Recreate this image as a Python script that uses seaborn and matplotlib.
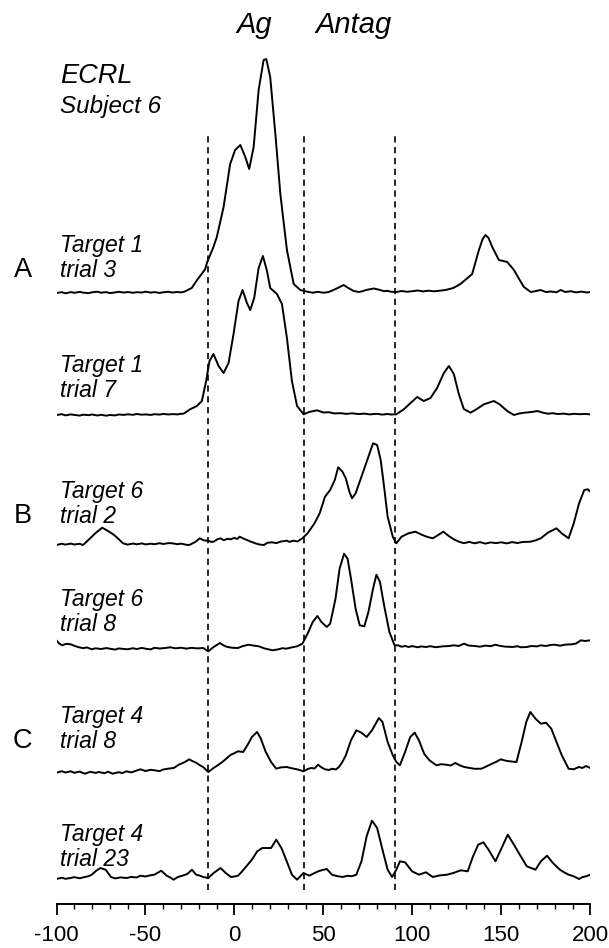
import matplotlib
matplotlib.use("Agg")
import matplotlib.pyplot as plt
import seaborn as sns
import pandas as pd
from matplotlib.ticker import MultipleLocator

# ---------------------------------------------------------------------------
# ECRL rectified EMG, subject 6: (time in ms, amplitude in arbitrary units)
# ---------------------------------------------------------------------------
target1_trial3 = [
    (-100, 0), (-97, 0.8), (-95, -0.3), (-92, 0.9), (-90, 0.2), (-87, 1.1), (-85, 0.4),
    (-82, -0.2), (-80, 0.7), (-77, 1.3), (-75, 0.3), (-72, 0.9), (-70, -0.1), (-67, 0.6),
    (-65, 1.2), (-62, 0.4), (-60, 1.0), (-57, 0.2), (-55, 0.8), (-52, 0.5), (-50, 1.3),
    (-47, 0.4), (-45, 0.9), (-42, 0.1), (-40, 0.7), (-37, 1.2), (-35, 0.5), (-32, 1.0),
    (-30, 0.6), (-28, 1.4), (-24, 5), (-21, 13), (-18, 20), (-16.4, 24), (-15.3, 31),
    (-12, 45), (-9.9, 56), (-6.1, 86), (-2.4, 129), (0.4, 143), (3.3, 148), (6.1, 136),
    (8.3, 124), (10.8, 146), (13.6, 203), (16.4, 233), (17.9, 234), (20.1, 216), (23, 159),
    (25.8, 99), (29.5, 43), (33.3, 9), (37, 3), (41.7, 1), (44, 0.3), (47, 1.2), (50, 0.2),
    (53, 1.0), (55, 2.5), (58, 5), (61.4, 8), (64, 5), (67, 2), (70, 1), (72, 1.8), (74, 3),
    (78.3, 4.5), (82, 3), (84, 1.8), (86, 2.2), (88, 1.2), (91, 1), (94, 2.0), (97, 1.2),
    (100, 1.8), (103, 2.5), (106, 1.6), (109, 2.3), (112, 1.7), (115, 2.2), (118.6, 3),
    (123, 5), (127, 9), (131, 15), (133.6, 19), (137.4, 43), (139.5, 54), (141.1, 58),
    (142.8, 55), (144.9, 46), (148.6, 33), (151, 32), (153.3, 31), (157.1, 23), (160, 14),
    (162.7, 6), (166.5, 1), (169, 1.8), (172, 3), (175, 1), (178, 1.5), (181, 0.7),
    (183.3, 3), (186, 1), (189, 1.8), (192, 0.6), (195, 1.4), (198, 0.5), (200, 1),
]

target1_trial7 = [
    (-100, 0), (-97, 0.8), (-95, -0.4), (-92, 0.6), (-90, 0.1), (-87, -0.6), (-85, 0.3),
    (-82, -0.2), (-80, 0.5), (-77, -0.5), (-75, 0.2), (-72, -0.7), (-70, 0), (-67, -0.4),
    (-65, 0.5), (-62, 0.1), (-60, 0.7), (-57, 0.2), (-55, 1.0), (-52, 0.3), (-50, 0.6),
    (-47, 0.1), (-45, 0.8), (-42, 0.4), (-40, 1.1), (-37, 0.5), (-35, 0.9), (-32, 0.6),
    (-30, 1.2), (-28.6, 1.3), (-24.9, 5.7), (-21.1, 9), (-18.3, 14), (-15.9, 34), (-14, 54),
    (-11.8, 61), (-8.9, 49), (-6.1, 42), (-3.3, 52), (-0.5, 81), (2.3, 114), (4.6, 125),
    (7, 112), (8.9, 105), (11.1, 117), (13.6, 147), (16, 159), (18.3, 144), (20.1, 127),
    (23.9, 121), (26.7, 111), (29.5, 77), (32.3, 34), (35.2, 9), (38.9, 0.7), (42, 3),
    (46.4, 4.7), (50, 2.5), (53, 2.8), (56, 1.6), (60, 1.8), (63, 1.1), (66, 1.7), (70, 0.9),
    (73, 1.4), (76, 0.6), (80, 1.2), (83, 0.4), (86, 1.0), (88, 0.5), (91, 0.7), (95.2, 5.7),
    (99, 12), (102.7, 18), (106.4, 14), (110.2, 17), (113.9, 27), (117.7, 42), (120.5, 49),
    (123.3, 41), (126.1, 21), (128.9, 6), (132.7, 2.3), (136, 5.7), (140.2, 10.7),
    (145.8, 14), (149, 10.7), (153.3, 4), (157.1, 0), (160, 1.5), (163, 2.3), (167, 3),
    (170.2, 4), (173, 2.5), (176, 1.3), (179, 1.8), (182, 0.9), (185, 1.4), (188, 0.6),
    (191, 1.2), (194, 0.8), (197, 1.1), (200, 0.7),
]

target6_trial2 = [
    (-100, -1), (-97, 0.3), (-95, -0.6), (-92, 0.4), (-90, -0.5), (-87, 0.2), (-85.1, -1),
    (-82.1, 4), (-78.2, 10.7), (-74.3, 16.3), (-72, 14), (-70.4, 12.3), (-68, 9.5),
    (-66.5, 7.3), (-62.6, 0.7), (-60, -0.6), (-57, 0.5), (-55, -0.3), (-52, 0.6), (-50, -0.4),
    (-47, 0.3), (-45, -0.2), (-42, 0.8), (-40, 0), (-37, 0.9), (-35, 0.7), (-32, -0.2),
    (-30, 0.4), (-27, -0.8), (-25.4, -1), (-22, 2), (-19.5, 5.7), (-17, 3.5), (-14.7, 3.3),
    (-13, 2.1), (-11.7, 2.3), (-9.5, 4.8), (-7.8, 5.7), (-6, 3.8), (-4, 5.2), (-2, 4.7),
    (0, 6.2), (1.5, 5.0), (2.95, 7.3), (5, 5.5), (7, 4), (9, 2.5), (11.7, 0.7), (14, -0.5),
    (16.6, -1), (18.5, 1.2), (21, 1.7), (23.5, 0.9), (26, 2.4), (29.4, 3.3), (31, 2.1),
    (33, 3.3), (35.5, 2.6), (38.2, 5.7), (41.1, 10.7), (45, 20.7), (47.9, 30.7), (50.9, 47.3),
    (53.8, 54), (56.4, 64), (58.3, 76.7), (60.7, 72.3), (62.6, 65.7), (64.6, 52.3),
    (66.1, 45.7), (68.1, 50.7), (71.4, 67.3), (75.3, 87.3), (77.9, 100.7), (80.2, 99),
    (82.2, 84), (84.1, 57.3), (86.1, 27.3), (89, 7.3), (91, 0.7), (93.9, 7.3), (97.8, 10.7),
    (101.7, 12.3), (105.6, 9), (108.5, 7), (111.5, 5.7), (114.5, 9), (117.4, 12.3),
    (121, 7.3), (123.5, 4.5), (126.2, 2.3), (129, 0.8), (132, 2.1), (135, 0.7), (138, 1.9),
    (141, 0.4), (144, 1.6), (147, 0.9), (150, 1.7), (153, 0.6), (156, 1.9), (159, 1.0),
    (162, 2.0), (166.3, 2.3), (169, 3.5), (172.2, 5.7), (176.1, 11.3), (181, 15.7),
    (183.9, 10.7), (187.8, 5.7), (190.7, 20.7), (193.7, 40.7), (196.6, 54), (198.6, 54.7),
    (200, 52.3),
]

target6_trial8 = [
    (-100, 6.7), (-98.5, 3.5), (-96.8, 1.7), (-94.5, 3.2), (-92, 2.7), (-90, 1.2), (-88, 0),
    (-85, -1.2), (-83, -0.4), (-80.2, -2.3), (-78, -1.3), (-75, -2.0), (-72, -1.1),
    (-70, -1.7), (-67, -2.6), (-65, -1.4), (-62, -2.0), (-60, -2.3), (-57, -1.2), (-55, -2.1),
    (-52, -0.9), (-50, -1.7), (-47, -2.4), (-45, -0.8), (-42, -1.5), (-39, -1), (-36, -0.3),
    (-33, -1.3), (-30, -0.7), (-27, -1.6), (-24, -0.8), (-21, -1.4), (-17.6, -1),
    (-14.7, -4.3), (-11.7, 0), (-8.2, 4), (-6, 1.5), (-4, 0), (-1, -0.8), (2, -1), (4.5, 0.8),
    (7.8, 2.3), (10.5, 1.5), (13.7, 0.7), (17, -1.5), (21.5, -3.3), (24.5, -2.4), (27, -1.2),
    (29, -1.7), (32, -0.5), (35.2, 0.7), (38.2, 3.3), (41.1, 13.3), (44, 25), (46.6, 31),
    (48.9, 25), (51.9, 20), (53.8, 23.3), (56.8, 48.3), (59.1, 78.3), (61.6, 93.3),
    (63.6, 88.3), (65.5, 68.3), (68.1, 38.3), (70.4, 21.7), (73, 20.7), (75.3, 35),
    (77.9, 58.3), (79.8, 72.3), (81.8, 65), (84.1, 41.7), (87.1, 15), (90, 1.7), (92, 1.7),
    (94, 0.2), (96, 1.1), (97.8, 0), (100, 0.9), (103, -0.3), (105, 0.6), (107.6, 0),
    (110, 0.8), (113, -0.2), (117.4, 0.7), (120, 0.9), (123.3, 1.7), (126, 1.0), (129.1, 3.3),
    (131.5, 1.5), (135, 1), (138, 0.3), (141, 1.4), (144, 0.8), (146.7, 2.3), (149, 1.2),
    (152, 0.4), (156.5, 0), (159, 0.8), (161, -0.3), (164.3, 0), (167, 1.0), (170, 0.6),
    (172.2, 1.7), (175, 1.0), (178, 2.1), (180, 2.3), (183, 1.3), (186, 2.4), (189.8, 2.7),
    (192, 3.5), (194.7, 6.7), (197, 6.0), (200, 6.7),
]

target4_trial8 = [
    (-100, -0.7), (-97, 0.8), (-95, -0.5), (-92, 0.7), (-90, -0.8), (-87, 0.4), (-84.1, -1.7),
    (-81, 0.2), (-78, -0.9), (-76.3, 0), (-73, -1.2), (-71, 0.3), (-68.5, -1.7), (-65, -0.2),
    (-63, -1.1), (-60.6, 0.7), (-58, -0.4), (-55, 1.4), (-52.8, 2.7), (-50, 1.0), (-47, 2.2),
    (-45, 1.7), (-42, 0.9), (-40, 2.5), (-37.2, 3.3), (-34, 4.1), (-31.3, 7.3), (-28, 9.8),
    (-25.4, 12.7), (-23.5, 10.8), (-21.5, 9.3), (-19.5, 6.8), (-17.6, 5), (-14.7, 0),
    (-11.7, 4), (-9, 7.2), (-6.8, 10), (-4.5, 13.5), (-2, 17.3), (0, 18.8), (2, 20.7),
    (4.9, 20), (7.8, 28.3), (9.8, 35), (12.7, 40), (14.7, 34), (17.6, 20), (20.6, 10),
    (23.5, 3.3), (26, 4.6), (29.4, 5), (32, 3.8), (35.2, 2.7), (38.8, 0.7), (41, 2.8), (43, 4),
    (45, 3.5), (47, 7.3), (49, 4.5), (50.9, 2.7), (53, 2.0), (55, 3.3), (57, 2.5), (58.7, 5),
    (60.5, 9.5), (62.6, 16.7), (65.5, 31.7), (68.5, 41.7), (71.4, 39.3), (74.3, 35),
    (77.3, 41.7), (81.2, 54), (83.2, 50), (86.1, 30), (89, 16.7), (91, 10), (93, 6.7),
    (95.9, 20), (98.8, 35), (101.3, 39.3), (103.7, 31.7), (106.6, 18.3), (109.6, 11.7),
    (113.5, 6.7), (116, 7.8), (119, 7.3), (121.5, 6.5), (124.2, 9), (126.5, 6.8), (129.1, 5),
    (132, 4.1), (135, 3.2), (138.9, 3.3), (141.5, 5.5), (144.8, 8.3), (147.5, 10.5),
    (149.7, 12.7), (152, 11.5), (154.6, 10.7), (158.5, 10), (161.4, 30), (164, 50),
    (166.3, 60), (169.2, 53.3), (172.2, 48.3), (175.1, 49.3), (178.1, 43.3), (181, 30),
    (184, 16.7), (187.8, 3.3), (190.7, 2.7), (192.5, 4.2), (193.7, 5), (195.5, 4.0),
    (197.6, 6), (200, 4),
]

target4_trial23 = [
    (-100, -1), (-97, 0.3), (-95, -0.8), (-92, 0), (-90, 0.9), (-87, -0.3), (-84.1, 1),
    (-82, 1.8), (-80.2, 3.3), (-77.5, 7.5), (-75.3, 10), (-72.4, 8.3), (-69.4, 1), (-67, -0.4),
    (-64, 0.6), (-60.6, 0), (-58, 1.1), (-55, 0.5), (-52.8, 2.3), (-50, 1.5), (-47, 2.8),
    (-45, 3.3), (-41.1, 7.3), (-38.1, 2.3), (-36, 0.5), (-34.2, -1.7), (-32, 0.8),
    (-29.3, 2.3), (-26.5, 4.0), (-23.9, 8.3), (-21.5, 3.3), (-19.5, 2.4), (-17.6, 1),
    (-14.7, 0), (-11.7, 5), (-7.8, 10), (-4.9, 5), (-2, 1), (0, 1.5), (2, 2.3), (4, 6),
    (5.9, 10), (9.8, 18.3), (12.8, 26.7), (15.7, 30), (20.6, 30), (23.5, 38.3), (26.4, 30),
    (29.4, 16.7), (32.3, 3.3), (35.2, -1.7), (38.8, 5), (42.1, 2.3), (44.5, 4.5), (47, 6.7),
    (49.5, 8), (51.9, 9), (54.8, 3.3), (57.5, 2.0), (60.7, 1), (63.5, 2.2), (66, 1.8),
    (68.5, 3.3), (71.4, 16.7), (74.3, 41.7), (77.3, 57.3), (80.2, 50), (83.2, 28.3),
    (86.1, 8.3), (88.6, 1), (91, 8.3), (93, 16.7), (95.9, 15.7), (99.8, 6.7), (103.7, 3.3),
    (107.6, 5.7), (111.5, 1), (115, 2.5), (119.4, 3.3), (123, 5.0), (127.2, 7.7),
    (131.1, 6.7), (134.1, 21.7), (137, 33.3), (139.9, 35.7), (142.8, 28.3), (146.7, 16.7),
    (150.6, 31.7), (153.6, 43.3), (156.5, 35), (160.4, 23.3), (164.3, 11.7), (169.2, 8.3),
    (172.2, 16.7), (175.7, 22.3), (179, 15), (182.9, 8.3), (185.5, 5.5), (187.8, 3.3),
    (190.5, 1.8), (193.7, -1), (195.5, 0.8), (197.6, 1.7), (200, 3.3),
]

trial_names = ["Target 1\ntrial 3", "Target 1\ntrial 7", "Target 6\ntrial 2",
               "Target 6\ntrial 8", "Target 4\ntrial 8", "Target 4\ntrial 23"]
panel_letters = ["A", "B", "C"]
epoch_marks = [-15, 39, 90.5]          # ms: agonist onset / antagonist window edges
x_ticks = [-100, -50, 0, 50, 100, 150, 200]

traces = [target1_trial3, target1_trial7, target6_trial2,
          target6_trial8, target4_trial8, target4_trial23]

# ---------------------------------------------------------------------------
# layout (vertical stacking of the traces)
# ---------------------------------------------------------------------------
trace_offsets = [611, 489, 360, 257, 132, 26]
label_offsets = [16, 18, 21, 16, 24, 12]     # second text line above baseline
line_gap = 25

sns.set_theme(style="white")
plt.rcParams["font.family"] = ["Liberation Sans", "DejaVu Sans"]
plt.rcParams["lines.scale_dashes"] = False

W, H = 609, 948
fig = plt.figure(figsize=(W / 100, H / 100), dpi=100)
fig.patch.set_facecolor("white")
ax = fig.add_axes([56.5 / W, 44 / H, 533.8 / W, 904 / H])
ax.set_facecolor("white")
ax.set_xlim(-100, 200)
ax.set_ylim(0, 904)

frames = []
for i, (pts, off) in enumerate(zip(traces, trace_offsets)):
    t, a = zip(*pts)
    frames.append(pd.DataFrame({"t": t, "y": [v + off for v in a], "trial": i}))
df = pd.concat(frames, ignore_index=True)

sns.lineplot(data=df, x="t", y="y", units="trial", estimator=None, sort=False,
             color="black", lw=1.4, ax=ax, legend=False)

for xm in epoch_marks:
    ax.plot([xm, xm], [14, 771], color="black", lw=1.2, dashes=(4.5, 3.3),
            clip_on=False)

# texts
ital = dict(style="italic", color="black")
ax.text(11, 871, "Ag", ha="center", va="baseline", fontsize=21, **ital)
ax.text(67, 871, "Antag", ha="center", va="baseline", fontsize=21, **ital)
ax.text(-98, 821, "ECRL", ha="left", va="baseline", fontsize=19.5, **ital)
ax.text(-98, 791, "Subject 6", ha="left", va="baseline", fontsize=17.5, **ital)

for name, off, lo in zip(trial_names, trace_offsets, label_offsets):
    first, second = name.split("\n")
    ax.text(-98, off + lo + line_gap, first, ha="left", va="baseline",
            fontsize=16.5, **ital)
    ax.text(-98, off + lo, second, ha="left", va="baseline", fontsize=16.5, **ital)

for letter, idx in zip(panel_letters, [0, 2, 4]):
    ax.text(-119, trace_offsets[idx] + label_offsets[idx], letter, ha="center",
            va="baseline", fontsize=19.5, color="black")

# axes styling: only the time axis at the bottom
for side in ["left", "top", "right"]:
    ax.spines[side].set_visible(False)
ax.spines["bottom"].set_color("black")
ax.spines["bottom"].set_linewidth(1.4)
ax.set_xticks(x_ticks)
ax.set_xticklabels([str(v) for v in x_ticks])
ax.xaxis.set_minor_locator(MultipleLocator(10))
ax.tick_params(axis="x", which="major", direction="out", length=8, width=1.3,
               color="black", labelsize=16, labelcolor="black", pad=7, bottom=True)
ax.tick_params(axis="x", which="minor", direction="out", length=3.5, width=1.0,
               color="black", bottom=True)
ax.set_yticks([])
ax.set_xlabel("")
ax.set_ylabel("")

fig.savefig("out.png", dpi=100, facecolor="white")
